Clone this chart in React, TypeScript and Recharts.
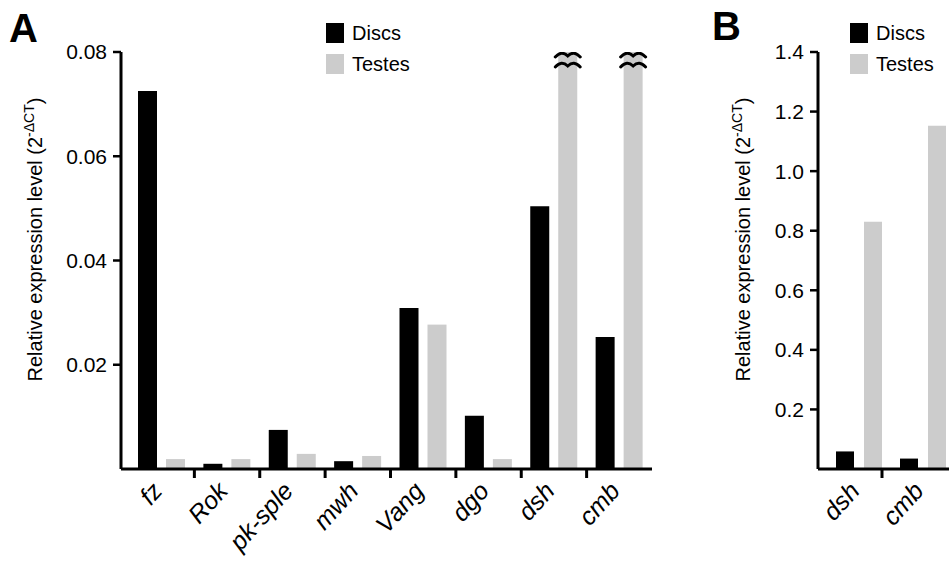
import React from 'react';
import { BarChart, Bar, XAxis, YAxis, Legend } from 'recharts';

const FONT = '"Liberation Sans", Arial, Helvetica, sans-serif';

// Panel A data
const categoriesA = ['fz', 'Rok', 'pk-sple', 'mwh', 'Vang', 'dgo', 'dsh', 'cmb'];
const discsA = [0.0725, 0.001, 0.0075, 0.0015, 0.0309, 0.0102, 0.0504, 0.0253];
const testesA = [0.0019, 0.0019, 0.0029, 0.0025, 0.0277, 0.0019, 0.83, 1.152];
const ticksA = [0.02, 0.04, 0.06, 0.08];
const maxA = 0.08;

// Panel B data
const categoriesB = ['dsh', 'cmb'];
const discsB = [0.059, 0.035];
const testesB = [0.83, 1.152];
const ticksB = [0.2, 0.4, 0.6, 0.8, 1.0, 1.2, 1.4];
const maxB = 1.4;

const seriesNames = ['Discs', 'Testes'];
const DISC_COLOR = '#000000';
const TESTES_COLOR = '#cccccc';

const dataA = categoriesA.map((c, i) => ({ name: c, discs: discsA[i], testes: testesA[i] }));
const dataB = categoriesB.map((c, i) => ({ name: c, discs: discsB[i], testes: testesB[i] }));

// layout
const W_A = 680;
const RIGHT_A = 28;
const YW_A = 121;
const PAD_A = 8;
const W_B = 300;
const RIGHT_B = 25;
const YW_B = 138;
const PAD_B = 9;
const bandA = (W_A - RIGHT_A - YW_A - PAD_A) / categoriesA.length;
const bandB = (W_B - RIGHT_B - YW_B - PAD_B) / categoriesB.length;

function makeXTick(band: number, count: number, shift: number) {
  return (props: any) => {
    const { x, y, payload, index } = props;
    const half =
      payload && typeof payload.offset === 'number' && payload.offset > 0 ? payload.offset : band / 2;
    const bx = x + half - shift;
    const i = Number(index);
    const showTick = !(i === count - 1);
    return (
      <g>
        {showTick ? (
          <line x1={bx} y1={y} x2={bx} y2={y + 9} stroke="#000000" strokeWidth={3} />
        ) : null}
        <g transform={`translate(${x + 2},${y + 23})`}>
          <text
            textAnchor="end"
            transform="rotate(-48)"
            fontSize={25}
            fontStyle="italic"
            fontFamily={FONT}
            fill="#000"
          >
            {payload.value}
          </text>
        </g>
      </g>
    );
  };
}

function YTitle(props: any) {
  const { viewBox, bx } = props;
  const vb = viewBox || { x: 0, y: 0, width: 0, height: 0 };
  const x = vb.x + bx;
  const y = vb.y + vb.height / 2 - 21;
  return (
    <text
      transform={`translate(${x},${y}) rotate(-90)`}
      textAnchor="middle"
      fontSize={20}
      fontFamily={FONT}
      fill="#000"
    >
      <tspan>Relative expression level (2</tspan>
      <tspan fontSize={14} dy={-8}>-ΔCT</tspan>
      <tspan fontSize={20} dy={8}>)</tspan>
    </text>
  );
}

function LegendBox(props: any) {
  const { payload } = props;
  const items = payload || [];
  return (
    <div style={{ fontFamily: FONT }}>
      {items.map((it: any, i: number) => (
        <div
          key={i}
          style={{ display: 'flex', alignItems: 'center', height: 20, marginBottom: 11 }}
        >
          <div style={{ width: 18, height: 20, background: it.color }} />
          <span style={{ marginLeft: 8, fontSize: 20, color: '#000', lineHeight: '20px' }}>
            {it.value}
          </span>
        </div>
      ))}
    </div>
  );
}

function wave(x0: number, w: number, yc: number) {
  return `M${x0},${yc + 2} Q${x0 + w / 4},${yc - 5} ${x0 + w / 2},${yc + 1} Q${x0 + (3 * w) / 4},${yc - 5} ${x0 + w},${yc + 2}`;
}

function makeBrokenShape(limit: number, color: string) {
  return (props: any) => {
    const { x, y, width, height, payload, background } = props;
    const bottom = y + height;
    const plotTop = background ? background.y : y;
    const top = Math.max(y, plotTop);
    const broken = payload && payload.testes > limit;
    return (
      <g>
        <rect x={x} y={top} width={width} height={Math.max(0, bottom - top)} fill={color} />
        {broken && (
          <g fill="none" stroke="#000" strokeWidth={3} strokeLinecap="round">
            <path d={wave(x - 3, width + 6, plotTop + 3)} />
            <path d={wave(x - 3, width + 6, plotTop + 13)} />
          </g>
        )}
      </g>
    );
  };
}

const axisStroke = { stroke: '#000', strokeWidth: 3 };
const tickStroke = { stroke: '#000', strokeWidth: 2.5 };
const tickFont = { fontSize: 21, fill: '#000', fontFamily: FONT };

export default function App() {
  return (
    <div
      style={{
        position: 'absolute',
        left: 0,
        top: 0,
        width: 949,
        height: 561,
        overflow: 'hidden',
        background: '#fff',
        fontFamily: FONT,
      }}
    >
      <div style={{ position: 'absolute', left: 0, top: 0 }}>
        <BarChart
          width={W_A}
          height={561}
          data={dataA}
          margin={{ top: 52, right: RIGHT_A, left: 0, bottom: 0 }}
          barSize={19}
          barGap={9}
        >
          <XAxis
            dataKey="name"
            type="category"
            interval={0}
            axisLine={axisStroke}
            tickLine={false}
            tickSize={0}
            tickMargin={0}
            tick={makeXTick(bandA, categoriesA.length, 0)}
            height={92}
            padding={{ left: PAD_A, right: 0 }}
          />
          <YAxis
            type="number"
            domain={[0, maxA]}
            allowDataOverflow
            ticks={ticksA}
            interval={0}
            width={YW_A}
            axisLine={axisStroke}
            tickLine={tickStroke}
            tickSize={8}
            tickMargin={6}
            tick={tickFont}
            tickFormatter={(v: number) => v.toFixed(2)}
            label={<YTitle bx={42} />}
          />
          <Legend
            layout="horizontal"
            verticalAlign="middle"
            align="center"
            wrapperStyle={{ left: 326, top: 23, width: 'auto' }}
            content={<LegendBox />}
          />
          <Bar dataKey="discs" name={seriesNames[0]} fill={DISC_COLOR} isAnimationActive={false} />
          <Bar
            dataKey="testes"
            name={seriesNames[1]}
            fill={TESTES_COLOR}
            isAnimationActive={false}
            shape={makeBrokenShape(maxA, TESTES_COLOR)}
          />
        </BarChart>
      </div>

      <div style={{ position: 'absolute', left: 680, top: 0 }}>
        <BarChart
          width={W_B}
          height={561}
          data={dataB}
          margin={{ top: 52, right: RIGHT_B, left: 0, bottom: 0 }}
          barSize={18}
          barGap={10}
        >
          <XAxis
            dataKey="name"
            type="category"
            interval={0}
            axisLine={axisStroke}
            tickLine={false}
            tickSize={0}
            tickMargin={0}
            tick={makeXTick(bandB, categoriesB.length, PAD_B)}
            height={92}
            padding={{ left: PAD_B, right: 0 }}
          />
          <YAxis
            type="number"
            domain={[0, maxB]}
            allowDataOverflow
            ticks={ticksB}
            interval={0}
            width={YW_B}
            axisLine={axisStroke}
            tickLine={tickStroke}
            tickSize={8}
            tickMargin={6}
            tick={tickFont}
            tickFormatter={(v: number) => v.toFixed(1)}
            label={<YTitle bx={70} />}
          />
          <Legend
            layout="horizontal"
            verticalAlign="middle"
            align="center"
            wrapperStyle={{ left: 170, top: 23, width: 'auto' }}
            content={<LegendBox />}
          />
          <Bar dataKey="discs" name={seriesNames[0]} fill={DISC_COLOR} isAnimationActive={false} />
          <Bar dataKey="testes" name={seriesNames[1]} fill={TESTES_COLOR} isAnimationActive={false} />
        </BarChart>
      </div>

      <svg
        width={949}
        height={561}
        style={{ position: 'absolute', left: 0, top: 0, pointerEvents: 'none' }}
      >
        <text x={9} y={42} fontSize={40} fontWeight="bold" fontFamily={FONT} fill="#000">
          A
        </text>
        <text x={712} y={40} fontSize={40} fontWeight="bold" fontFamily={FONT} fill="#000">
          B
        </text>
      </svg>
    </div>
  );
}
